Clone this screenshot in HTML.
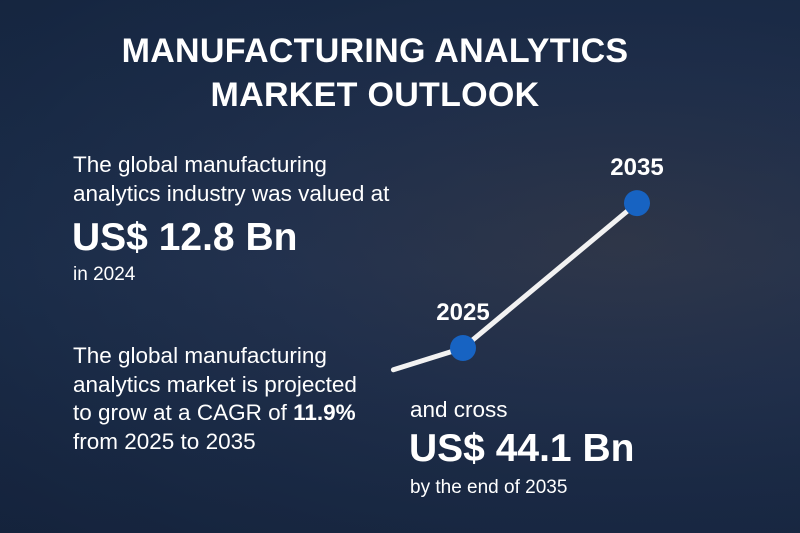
<!DOCTYPE html>
<html><head><meta charset="utf-8"><style>
html,body{margin:0;padding:0}
body{width:800px;height:533px;overflow:hidden;position:relative;font-family:"Liberation Sans",sans-serif;color:#fff;
background:radial-gradient(ellipse at 78% 45%,#33394a 0%,#243350 40%,#1b2d4a 70%,#152540 100%);}
.bg2{position:absolute;inset:0;background:linear-gradient(180deg,rgba(20,35,60,0.45) 0%,rgba(25,40,65,0.15) 50%,rgba(20,32,55,0.45) 100%)}
.t{position:absolute;white-space:nowrap}
h1{position:absolute;left:0;width:750px;top:29px;margin:0;text-align:center;font-size:34px;line-height:44px;font-weight:bold;letter-spacing:0.3px}
.p{font-size:22.5px}
.big{font-size:39px;font-weight:bold}
svg{position:absolute;left:0;top:0}
</style></head><body>
<div class="bg2"></div>
<h1>MANUFACTURING ANALYTICS<br>MARKET OUTLOOK</h1>
<div class="t p" style="left:73px;top:152px">The global manufacturing</div>
<div class="t p" style="left:73px;top:181px">analytics industry was valued at</div>
<div class="t big" style="left:72px;top:216px">US$ 12.8 Bn</div>
<div class="t" style="left:73px;top:264px;font-size:19px">in 2024</div>
<div class="t p" style="left:73px;top:342px;line-height:28.5px">The global manufacturing<br>analytics market is projected<br>to grow at a CAGR of <b>11.9%</b><br>from 2025 to 2035</div>
<div class="t p" style="left:410px;top:397px">and cross</div>
<div class="t big" style="left:409px;top:427px">US$ 44.1 Bn</div>
<div class="t" style="left:410px;top:477px;font-size:19px">by the end of 2035</div>
<svg id="c" width="800" height="533"></svg>
<script>
const years=[2021,2025,2035];
const values=[8.1,12.8,44.1];
const labels=["","2025","2035"];
const x=y=>463+(y-2025)*17.4;
const yv=v=>348-(v-12.8)*4.63;
const s=document.getElementById('c'),ns='http://www.w3.org/2000/svg';
const pl=document.createElementNS(ns,'polyline');


pl.setAttribute('points',years.map((d,i)=>x(d)+','+yv(values[i])).join(' '));
pl.setAttribute('fill','none');pl.setAttribute('stroke','#f2f2f2');pl.setAttribute('stroke-width','5');pl.setAttribute('stroke-linecap','round');
s.appendChild(pl);
years.forEach((d,i)=>{if(!labels[i])return;
const c=document.createElementNS(ns,'circle');


c.setAttribute('cx',x(d));c.setAttribute('cy',yv(values[i]));c.setAttribute('r',13);c.setAttribute('fill','#1763c2');
s.appendChild(c);
const t=document.createElementNS(ns,'text');


t.setAttribute('x',x(d));t.setAttribute('y',yv(values[i])-28);t.setAttribute('text-anchor','middle');
t.setAttribute('fill','#fff');t.setAttribute('font-size','24');t.setAttribute('font-weight','bold');t.setAttribute('font-family','Liberation Sans, sans-serif');
t.textContent=labels[i];s.appendChild(t);});
</script>
</body></html>
